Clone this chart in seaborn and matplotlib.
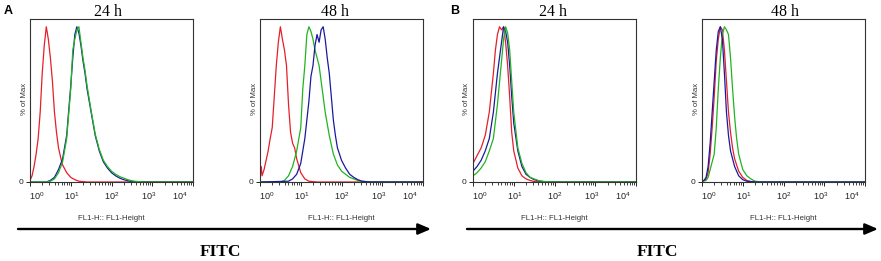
import numpy as np
import pandas as pd
import matplotlib
matplotlib.use("Agg")
import matplotlib.pyplot as plt
import seaborn as sns
from matplotlib.ticker import LogLocator, NullFormatter
from matplotlib.transforms import ScaledTranslation
from matplotlib.patches import FancyArrowPatch

sns.set_theme(style="white")
plt.rcParams["font.family"] = ["Liberation Sans", "DejaVu Sans"]
plt.rcParams["mathtext.fontset"] = "custom"
plt.rcParams["mathtext.rm"] = "Liberation Sans"
plt.rcParams["mathtext.it"] = "Liberation Sans:italic"

# ---------------- data (log10 fluorescence position, % of Max) ----------------
PANEL_LETTERS = ["A", "B"]
PANEL_TITLES = ["24 h", "48 h", "24 h", "48 h"]
SERIES = ["Red", "Blue", "Green"]
XTICKS = [1, 10, 100, 1000, 10000]
XTICK_LABELS = ["$10^{0}$", "$10^{1}$", "$10^{2}$", "$10^{3}$", "$10^{4}$"]
Y_LABEL = "% of Max"
X_LABEL = "FL1-H:: FL1-Height"
AXIS_TITLE = "FITC"

# Panel A, 24 h
A24_RED_X = [0.0, 0.05, 0.1, 0.15, 0.2, 0.25, 0.3, 0.35, 0.4, 0.45, 0.5, 0.55, 0.6, 0.65, 0.7, 0.75, 0.8, 0.9, 1.0, 1.1, 1.2, 1.4, 4.0]
A24_RED_Y = [1, 4, 10, 18, 28, 45, 70, 88, 100, 92, 80, 65, 45, 32, 22, 16, 11, 6, 3, 1.5, 0.5, 0, 0]
A24_BLUE_X = [0.0, 0.4, 0.5, 0.6, 0.7, 0.8, 0.9, 1.0, 1.05, 1.1, 1.15, 1.2, 1.25, 1.3, 1.35, 1.4, 1.5, 1.6, 1.7, 1.8, 1.9, 2.0, 2.1, 2.2, 2.3, 2.4, 2.5, 2.7, 4.0]
A24_BLUE_Y = [0, 0, 1, 3, 8, 15, 30, 62, 80, 95, 100, 96, 88, 78, 70, 60, 45, 30, 20, 13, 9, 6, 4, 2.5, 1.5, 0.8, 0.3, 0, 0]
A24_GREEN_X = [0.0, 0.4, 0.5, 0.6, 0.7, 0.8, 0.9, 1.0, 1.05, 1.1, 1.15, 1.2, 1.25, 1.3, 1.35, 1.4, 1.5, 1.6, 1.7, 1.8, 1.9, 2.0, 2.1, 2.2, 2.3, 2.4, 2.5, 2.6, 2.8, 4.0]
A24_GREEN_Y = [0, 0, 0.5, 2, 6, 13, 28, 60, 85, 92, 98, 100, 90, 80, 72, 62, 46, 31, 21, 14, 10, 7, 5, 3.5, 2.5, 1.5, 0.8, 0.4, 0, 0]

# Panel A, 48 h
A48_RED_X = [0.0, 0.03, 0.05, 0.1, 0.15, 0.2, 0.25, 0.3, 0.35, 0.4, 0.45, 0.5, 0.55, 0.6, 0.65, 0.7, 0.75, 0.8, 0.85, 0.9, 1.0, 1.1, 1.2, 1.4, 4.0]
A48_RED_Y = [2, 10, 4, 8, 14, 20, 28, 35, 55, 75, 90, 100, 92, 85, 75, 50, 32, 25, 22, 15, 6, 2, 0.5, 0, 0]
A48_BLUE_X = [0.0, 0.7, 0.8, 0.9, 1.0, 1.1, 1.2, 1.25, 1.3, 1.35, 1.4, 1.45, 1.5, 1.55, 1.6, 1.65, 1.7, 1.75, 1.8, 1.85, 1.9, 2.0, 2.1, 2.2, 2.3, 2.4, 2.5, 2.7, 4.0]
A48_BLUE_Y = [0, 0.5, 2, 5, 12, 28, 52, 68, 75, 88, 95, 90, 98, 100, 92, 80, 70, 55, 40, 30, 22, 14, 9, 5, 3, 1.5, 0.5, 0, 0]
A48_GREEN_X = [0.0, 0.5, 0.6, 0.7, 0.8, 0.9, 1.0, 1.05, 1.1, 1.15, 1.2, 1.25, 1.3, 1.35, 1.4, 1.45, 1.5, 1.55, 1.6, 1.7, 1.8, 1.9, 2.0, 2.1, 2.2, 2.3, 2.4, 2.5, 2.7, 4.0]
A48_GREEN_Y = [0, 0, 1, 4, 10, 20, 35, 60, 75, 95, 100, 97, 92, 85, 80, 75, 65, 55, 45, 30, 18, 11, 7, 5, 3, 2, 1, 0.5, 0, 0]

# Panel B, 24 h
B24_RED_X = [0.0, 0.1, 0.2, 0.3, 0.4, 0.5, 0.55, 0.6, 0.65, 0.7, 0.75, 0.8, 0.85, 0.9, 0.95, 1.0, 1.1, 1.2, 1.3, 1.4, 1.5, 1.7, 4.0]
B24_RED_Y = [12, 17, 22, 30, 45, 70, 85, 95, 100, 98, 100, 90, 75, 55, 32, 20, 9, 4, 2, 1, 0.3, 0, 0]
B24_BLUE_X = [0.0, 0.1, 0.2, 0.3, 0.4, 0.5, 0.6, 0.7, 0.75, 0.8, 0.85, 0.9, 0.95, 1.0, 1.1, 1.2, 1.3, 1.4, 1.5, 1.6, 1.7, 1.9, 4.0]
B24_BLUE_Y = [7, 10, 14, 20, 28, 45, 70, 90, 100, 97, 90, 75, 55, 38, 20, 10, 5, 3, 1.5, 0.8, 0.3, 0, 0]
B24_GREEN_X = [0.0, 0.1, 0.2, 0.3, 0.4, 0.5, 0.6, 0.7, 0.75, 0.8, 0.85, 0.9, 0.95, 1.0, 1.1, 1.2, 1.3, 1.4, 1.5, 1.6, 1.7, 1.8, 2.0, 4.0]
B24_GREEN_Y = [4, 6, 9, 13, 20, 28, 50, 78, 92, 100, 96, 85, 65, 45, 22, 12, 6, 3, 2, 1, 0.5, 0.2, 0, 0]

# Panel B, 48 h
B48_RED_X = [0.0, 0.05, 0.1, 0.15, 0.2, 0.25, 0.3, 0.35, 0.4, 0.45, 0.5, 0.55, 0.6, 0.65, 0.7, 0.75, 0.8, 0.9, 1.0, 1.1, 1.2, 1.4, 4.0]
B48_RED_Y = [0.5, 1, 2, 6, 18, 35, 55, 78, 92, 100, 98, 85, 65, 45, 32, 22, 15, 7, 3, 1, 0.3, 0, 0]
B48_BLUE_X = [0.0, 0.05, 0.1, 0.15, 0.2, 0.25, 0.3, 0.35, 0.4, 0.45, 0.5, 0.55, 0.6, 0.65, 0.7, 0.8, 0.9, 1.0, 1.1, 1.3, 4.0]
B48_BLUE_Y = [0.5, 1, 3, 10, 25, 45, 65, 85, 97, 100, 92, 70, 45, 30, 20, 10, 4, 1.5, 0.5, 0, 0]
B48_GREEN_X = [0.0, 0.1, 0.15, 0.2, 0.3, 0.35, 0.4, 0.45, 0.5, 0.55, 0.6, 0.65, 0.7, 0.75, 0.8, 0.85, 0.9, 1.0, 1.1, 1.2, 1.3, 1.5, 4.0]
B48_GREEN_Y = [0.3, 1, 3, 8, 18, 35, 60, 80, 95, 100, 98, 95, 80, 60, 42, 28, 18, 8, 4, 2, 0.5, 0, 0]

PANELS = [
    [(A24_RED_X, A24_RED_Y), (A24_BLUE_X, A24_BLUE_Y), (A24_GREEN_X, A24_GREEN_Y)],
    [(A48_RED_X, A48_RED_Y), (A48_GREEN_X, A48_GREEN_Y), (A48_BLUE_X, A48_BLUE_Y)],
    [(B24_RED_X, B24_RED_Y), (B24_BLUE_X, B24_BLUE_Y), (B24_GREEN_X, B24_GREEN_Y)],
    [(B48_RED_X, B48_RED_Y), (B48_GREEN_X, B48_GREEN_Y), (B48_BLUE_X, B48_BLUE_Y)],
]
PANEL_ORDERS = [["Red", "Blue", "Green"], ["Red", "Green", "Blue"],
                ["Red", "Blue", "Green"], ["Red", "Green", "Blue"]]

# ---------------- layout / style ----------------
W, H = 881, 261
COLORS = {"Red": "#e4202a", "Blue": "#1a1a9e", "Green": "#20b420"}
AX_LEFTS = [30, 260, 473, 702]
AX_W = 163
AX_TOP, AX_BOT = 19, 182
TITLE_X = [108, 335, 553, 785]
LABEL_DX = [7, 1, 0, -4, -13]

fig = plt.figure(figsize=(W / 100, H / 100), dpi=100)
fig.patch.set_facecolor("white")


def fx(px):
    return px / W


def fy(py):
    return 1 - py / H


for i, curves in enumerate(PANELS):
    left = AX_LEFTS[i]
    ax = fig.add_axes([fx(left), fy(AX_BOT), AX_W / W, (AX_BOT - AX_TOP) / H])
    ax.set_facecolor("white")
    frames = []
    for name, (xs, ys) in zip(PANEL_ORDERS[i], curves):
        frames.append(pd.DataFrame({"fl": np.power(10.0, xs), "pct": ys, "series": name}))
    df = pd.concat(frames, ignore_index=True)
    ax.set_xscale("log")
    sns.lineplot(data=df, x="fl", y="pct", hue="series", hue_order=PANEL_ORDERS[i],
                 palette=COLORS, estimator=None, sort=False, legend=False,
                 linewidth=0.9, ax=ax)
    ax.set_xlim(1, 10000)
    ax.set_ylim(0, 105)
    ax.set_xlabel("")
    ax.set_ylabel("")
    ax.set_xticks(XTICKS)
    ax.set_xticklabels(XTICK_LABELS)
    ax.xaxis.set_minor_locator(LogLocator(base=10, subs=np.arange(2, 10), numticks=20))
    ax.xaxis.set_minor_formatter(NullFormatter())
    ax.tick_params(axis="x", which="major", direction="out", length=3.2, width=0.7,
                   labelsize=6.5, pad=2.5, bottom=True, colors="#222222")
    ax.tick_params(axis="x", which="minor", direction="out", length=1.8, width=0.6,
                   bottom=True, colors="#222222")
    ax.set_yticks([0])
    ax.set_yticklabels(["0"])
    ax.tick_params(axis="y", which="major", direction="out", length=3, width=0.7,
                   labelsize=6, pad=2, left=True, colors="#222222")
    for lab, dx in zip(ax.get_xticklabels(), LABEL_DX):
        lab.set_transform(lab.get_transform() + ScaledTranslation(dx / 100, 0, fig.dpi_scale_trans))
    for sp in ax.spines.values():
        sp.set_visible(True)
        sp.set_color("#333333")
        sp.set_linewidth(0.8)
    # y label & x label
    fig.text(fx(left - 6), fy(99), Y_LABEL, rotation=90, ha="center", va="center",
             fontsize=5.6, color="#333333")
    fig.text(fx(left + AX_W / 2), fy(218), X_LABEL, ha="center", va="center",
             fontsize=5.6, color="#333333")
    fig.text(fx(TITLE_X[i]), fy(12), PANEL_TITLES[i], ha="center", va="center",
             fontsize=11.5, family=["Liberation Serif", "DejaVu Serif"], color="black")

# panel letters
fig.text(fx(8), fy(11), PANEL_LETTERS[0], ha="center", va="center", fontsize=9,
         fontweight="bold", color="black")
fig.text(fx(455), fy(11), PANEL_LETTERS[1], ha="center", va="center", fontsize=9,
         fontweight="bold", color="black")

# arrows
for x0, x1 in [(18, 431), (467, 878)]:
    arr = FancyArrowPatch((fx(x0), fy(229)), (fx(x1), fy(229)), transform=fig.transFigure,
                          arrowstyle="-|>,head_length=0.7,head_width=0.3", mutation_scale=11,
                          linewidth=1.7, color="black", shrinkA=0, shrinkB=0)
    fig.add_artist(arr)

# FITC labels
for cx in [220, 657]:
    fig.text(fx(cx), fy(252), AXIS_TITLE, ha="center", va="center", fontsize=12.5,
             fontweight="bold", family=["Liberation Serif", "DejaVu Serif"], color="black")

fig.savefig("out.png", dpi=100, facecolor="white")
